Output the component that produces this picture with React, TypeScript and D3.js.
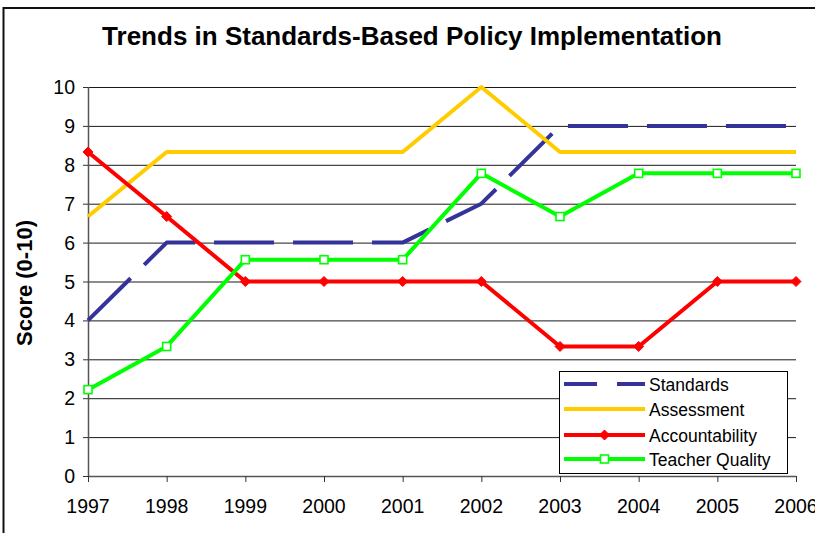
import React from "react";
import * as d3 from "d3";

const years = [1997, 1998, 1999, 2000, 2001, 2002, 2003, 2004, 2005, 2006];
const standards = [4, 6, 6, 6, 6, 7, 9, 9, 9, 9];
const assessment = [6.67, 8.33, 8.33, 8.33, 8.33, 10, 8.33, 8.33, 8.33, 8.33];
const accountability = [8.33, 6.67, 5, 5, 5, 5, 3.33, 3.33, 5, 5];
const teacherQuality = [2.22, 3.33, 5.56, 5.56, 5.56, 7.78, 6.67, 7.78, 7.78, 7.78];
const yTicks = [0, 1, 2, 3, 4, 5, 6, 7, 8, 9, 10];
const seriesNames = ["Standards", "Assessment", "Accountability", "Teacher Quality"];

const W = 815;
const H = 533;
const FONT = "'Liberation Sans', Arial, sans-serif";

export default function App() {
  const x = d3.scaleLinear().domain([1997, 2006]).range([88, 796]);
  const y = d3.scaleLinear().domain([0, 10]).range([476, 87]);
  const line = d3
    .line<[number, number]>()
    .x((d) => x(d[0]))
    .y((d) => y(d[1]));
  const pts = (vals: number[]) => years.map((yr, i) => [yr, vals[i]] as [number, number]);

  const series = [
    { name: seriesNames[0], vals: standards, color: "#333399", dash: "60 19", marker: "none" },
    { name: seriesNames[1], vals: assessment, color: "#FFCC00", dash: undefined, marker: "none" },
    { name: seriesNames[2], vals: accountability, color: "#FF0000", dash: undefined, marker: "diamond" },
    { name: seriesNames[3], vals: teacherQuality, color: "#00FF00", dash: undefined, marker: "square" },
  ];

  const marker = (kind: string, cx: number, cy: number, color: string, key: string) => {
    if (kind === "diamond") {
      const s = 5;
      return (
        <path
          key={key}
          d={`M${cx},${cy - s}L${cx + s},${cy}L${cx},${cy + s}L${cx - s},${cy}Z`}
          fill={color}
          stroke={color}
          strokeWidth={1}
        />
      );
    }
    if (kind === "square") {
      return (
        <rect key={key} x={cx - 4} y={cy - 4} width={8} height={8} fill="#fff" stroke={color} strokeWidth={1.6} />
      );
    }
    return null;
  };

  const legendX = 559;
  const legendY = 371;
  const legendRows = [384, 409, 435, 459];

  return (
    <svg
      width={W}
      height={H}
      style={{ position: "absolute", left: 0, top: 0, display: "block", background: "#fff" }}
      fontFamily={FONT}
    >
      <rect x={0} y={0} width={W} height={H} fill="#fff" />
      <rect x={3.5} y={8} width={W + 20} height={H + 20} fill="none" stroke="#111" strokeWidth={2} />
      <text x={412} y={45} textAnchor="middle" fontSize={26} fontWeight="bold" fill="#000">
        Trends in Standards-Based Policy Implementation
      </text>

      {/* gridlines */}
      {yTicks.filter((t) => t > 0).map((t) => (
        <line key={"g" + t} x1={88} x2={796} y1={y(t) + 0.5} y2={y(t) + 0.5} stroke="#1a1a1a" strokeWidth={1} />
      ))}
      {/* y axis */}
      <line x1={88.5} x2={88.5} y1={y(10)} y2={y(0)} stroke="#555" strokeWidth={1.5} />
      {yTicks.map((t) => (
        <g key={"yt" + t}>
          <line x1={83} x2={88} y1={y(t) + 0.5} y2={y(t) + 0.5} stroke="#333" />
          <text x={75} y={y(t) + 7} textAnchor="end" fontSize={19.5} fill="#000">
            {t}
          </text>
        </g>
      ))}
      {/* x axis */}
      <line x1={88} x2={796} y1={y(0) + 0.5} y2={y(0) + 0.5} stroke="#555" strokeWidth={1.5} />
      {years.map((yr) => (
        <g key={"xt" + yr}>
          <line x1={x(yr) + 0.5} x2={x(yr) + 0.5} y1={y(0)} y2={y(0) + 6} stroke="#333" />
          <text x={x(yr)} y={513} textAnchor="middle" fontSize={19.5} fill="#000">
            {yr}
          </text>
        </g>
      ))}
      <text
        transform={`translate(32,283) rotate(-90)`}
        textAnchor="middle"
        fontSize={22}
        fontWeight="bold"
        fill="#000"
      >
        Score (0-10)
      </text>

      {/* series */}
      {series.map((s) => (
        <g key={s.name}>
          <path
            d={line(pts(s.vals)) || ""}
            fill="none"
            stroke={s.color}
            strokeWidth={4}
            strokeDasharray={s.dash}
            strokeLinejoin="round"
          />
          {s.vals.map((v, i) => marker(s.marker, x(years[i]), y(v), s.color, s.name + i))}
        </g>
      ))}

      {/* legend */}
      <rect x={legendX + 0.5} y={legendY + 0.5} width={228} height={102} fill="#fff" stroke="#000" strokeWidth={1} />
      {series.map((s, i) => (
        <g key={"lg" + s.name}>
          <line
            x1={564}
            x2={645}
            y1={legendRows[i]}
            y2={legendRows[i]}
            stroke={s.color}
            strokeWidth={4}
            strokeDasharray={s.dash ? "33 20 28" : undefined}
          />
          {marker(s.marker, 604.5, legendRows[i], s.color, "lm" + i)}
          <text x={649} y={legendRows[i] + 6.5} fontSize={17.5} fill="#000">
            {s.name}
          </text>
        </g>
      ))}
    </svg>
  );
}
